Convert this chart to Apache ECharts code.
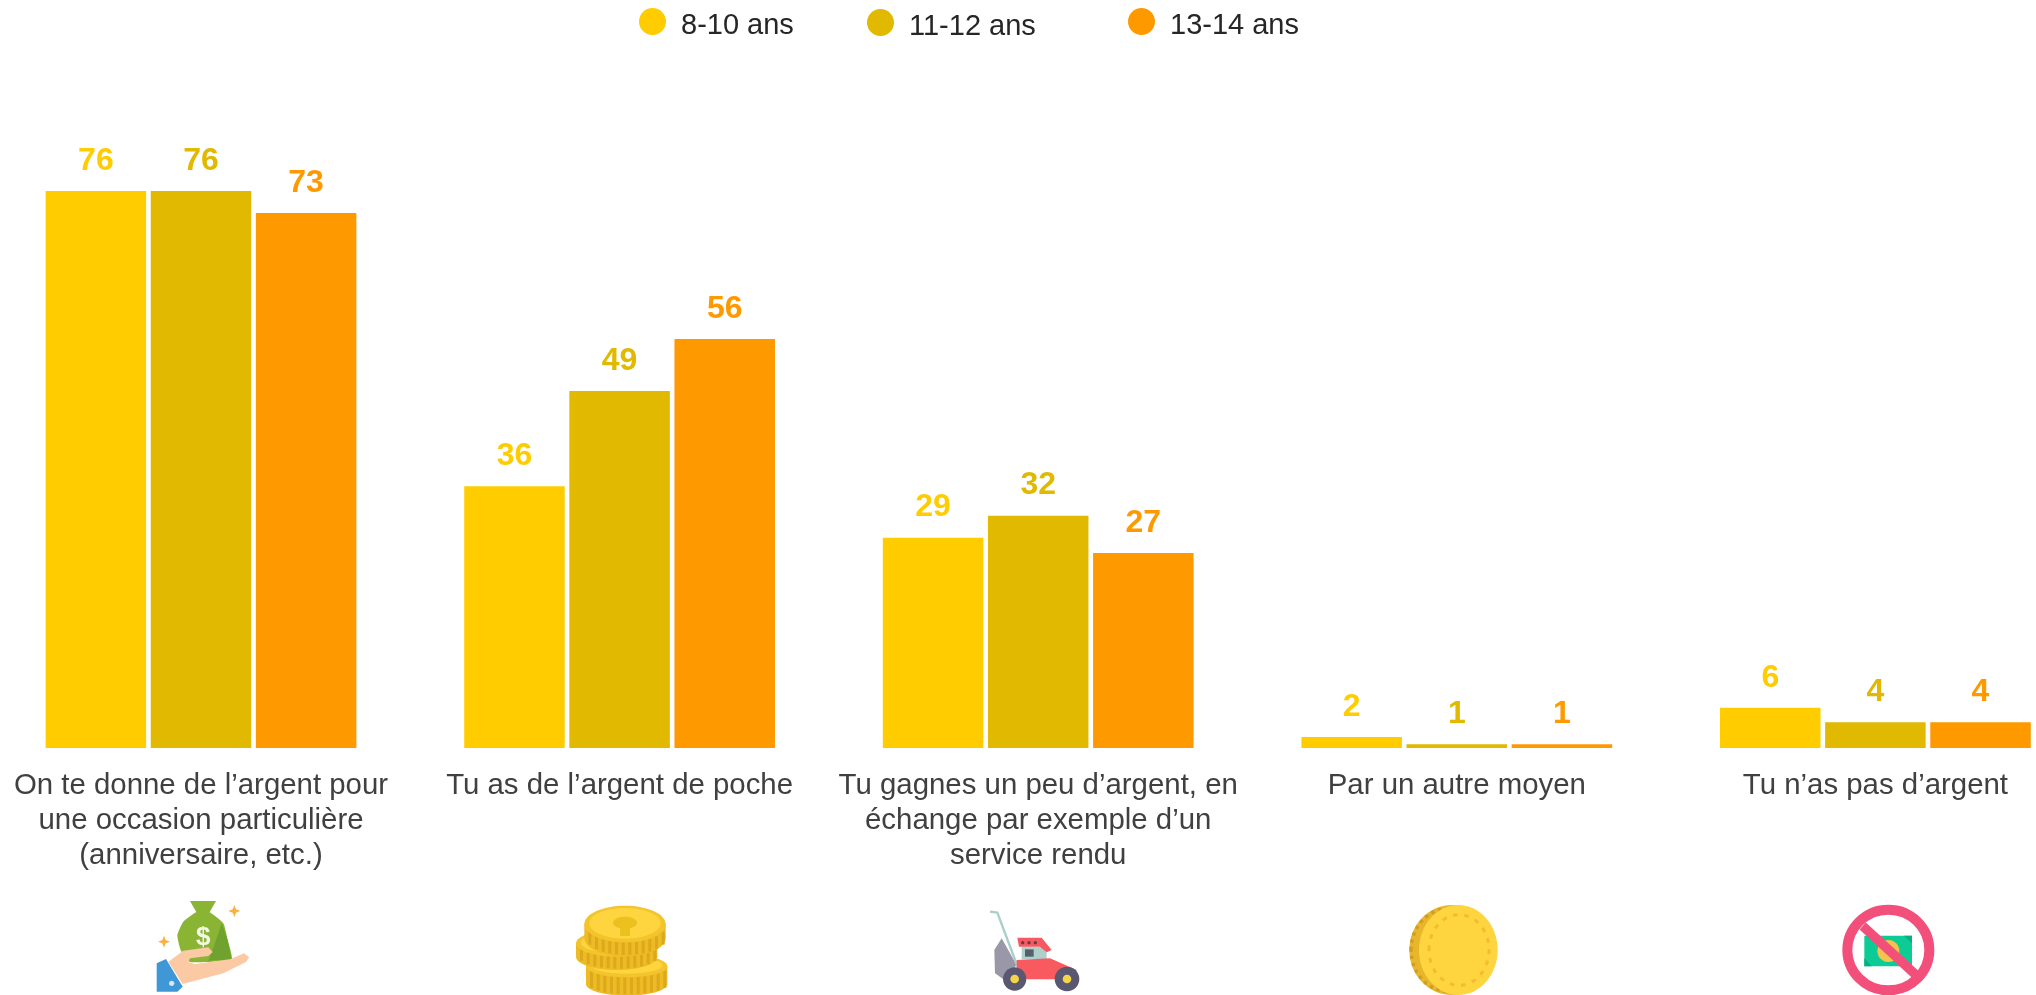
<!DOCTYPE html>
<html>
<head>
<meta charset="utf-8">
<title>Argent de poche</title>
<script src="https://cdn.jsdelivr.net/npm/echarts@6/dist/echarts.min.js"></script>
<style>
	html, body { margin: 0; padding: 0; background: #fff; }
	#chart { width: 2036px; height: 995px; }
</style>
</head>
<body>
<div id="chart"></div>
<script>
var categories = [
	"On te donne de l’argent pour\nune occasion particulière\n(anniversaire, etc.)",
	"Tu as de l’argent de poche",
	"Tu gagnes un peu d’argent, en\néchange par exemple d’un\nservice rendu",
	"Par un autre moyen",
	"Tu n’as pas d’argent"
];
var ages = ["8-10 ans", "11-12 ans", "13-14 ans"];
var values8 = [76, 35.7, 28.7, 1.5, 5.5];
var values11 = [76, 48.7, 31.7, 0.5, 3.5];
var values13 = [73, 55.8, 26.6, 0.5, 3.5];
var colors = ["#FFCC00", "#E0B900", "#FF9900"];
var legendLeft = [639, 867, 1128];
var legendTop = [8, 9, 8];

var fontName = '"Liberation Sans", Arial, sans-serif';

function barSeries(i, values) {
	return {
		name: ages[i],
		type: 'bar',
		data: values,
		barWidth: 100.5,
		barGap: '4.6%',
		itemStyle: { color: colors[i] },
		label: {
			show: true,
			position: 'top',
			distance: 14,
			color: colors[i],
			fontFamily: fontName,
			fontWeight: 'bold',
			fontSize: 32,
			formatter: function (p) { return Math.round(p.value); }
		}
	};
}

function legendFor(i) {
	return {
		data: [ages[i]],
		left: legendLeft[i],
		top: legendTop[i],
		padding: 0,
		itemWidth: 27,
		itemHeight: 30,
		icon: 'circle',
		formatter: '{t|{name}}',
		textStyle: {
			rich: {
				t: {
					color: '#262626',
					fontFamily: fontName,
					fontSize: 29,
					padding: [9, 0, 0, 10]
				}
			}
		}
	};
}

// small drawing helpers for the icons, coordinates are in 3x crop units
function ell(cx, cy, rx, ry, style) {
	return { type: 'ellipse', shape: { cx: cx, cy: cy, rx: rx, ry: ry }, style: style };
}
function poly(points, fill, smooth) {
	return { type: 'polygon', shape: { points: points, smooth: smooth || 0 }, style: { fill: fill } };
}
function box(x, y, w, h, fill) {
	return { type: 'rect', shape: { x: x, y: y, width: w, height: h }, style: { fill: fill } };
}
function icon(x, y, children) {
	return { type: 'group', x: x, y: y, scaleX: 1 / 3, scaleY: 1 / 3, silent: true, children: children };
}
function coin(cx, cy, rx, ry, depth) {
	var parts = [
		box(cx - rx, cy, rx * 2, depth, '#EDBB25'),
		ell(cx, cy + depth, rx, ry, { fill: '#EDBB25' })
	];
	// ridges on the visible edge of the coin
	for (var x = cx - rx + 12; x < cx + rx - 6; x += 20) {
		var t = (x - cx) / rx;
		var y = cy + ry * Math.sqrt(1 - t * t);
		parts.push(box(x, y, 9, depth - 4, '#DDA91C'));
	}
	parts.push(ell(cx, cy, rx, ry, { fill: '#F4C42C' }));
	parts.push(ell(cx, cy - 2, rx - 15, ry - 9, { fill: '#FFD53F' }));
	return parts;
}
function star(cx, cy) {
	return poly([[cx, cy - 18], [cx + 5, cy - 5], [cx + 18, cy], [cx + 5, cy + 5], [cx, cy + 18], [cx - 5, cy + 5], [cx - 18, cy], [cx - 5, cy - 5]], '#FBB040');
}

var iconBag = icon(140, 890, [
	poly([[150, 33], [228, 33], [208, 68], [170, 68]], '#8AB534'),
	poly([[170, 66], [208, 66], [250, 100], [263, 150], [275, 208], [150, 216], [122, 180], [112, 135], [130, 95]], '#8AB534', 0.15),
	poly([[245, 100], [263, 150], [275, 208], [205, 212], [225, 160]], '#6FA22E'),
	{ type: 'text', style: { x: 190, y: 142, text: '$', fill: '#F3F7E6', font: 'bold 78px ' + fontName, align: 'center', verticalAlign: 'middle' } },
	poly([[85, 215], [130, 182], [205, 172], [218, 186], [205, 198], [150, 205], [145, 216], [165, 222], [270, 208], [312, 190], [328, 202], [318, 216], [250, 250], [128, 282]], '#FCC9A5'),
	poly([[50, 220], [78, 207], [128, 290], [112, 305], [50, 305]], '#3F97D5'),
	ell(95, 280, 8, 8, { fill: '#D6E8F5' }),
	star(283, 63),
	star(72, 155)
]);

var iconCoins = icon(560, 890, [].concat(
	coin(200, 228, 122, 34, 55),
	coin(170, 160, 122, 40, 40),
	coin(195, 102, 122, 55, 42),
	[
		ell(195, 98, 36, 18, { fill: '#ECC01E' }),
		box(180, 100, 30, 38, '#ECC01E')
	]
));

var iconMower = icon(970, 890, [
	poly([[95, 145], [140, 225], [100, 268], [75, 250], [73, 180]], '#9A98A8'),
	{ type: 'polyline', shape: { points: [[60, 65], [82, 68], [142, 228]] }, style: { fill: 'none', stroke: '#A9CFC9', lineWidth: 7 } },
	box(155, 170, 75, 38, '#AFCFCB'),
	box(165, 178, 26, 22, '#55606B'),
	poly([[142, 143], [215, 143], [245, 180], [230, 187], [210, 170], [147, 170]], '#F55A62'),
	ell(158, 158, 5, 5, { fill: '#6A3A4A' }),
	ell(177, 158, 5, 5, { fill: '#6A3A4A' }),
	ell(196, 158, 5, 5, { fill: '#6A3A4A' }),
	poly([[140, 210], [240, 205], [320, 240], [300, 268], [170, 268], [140, 232]], '#F85A5F'),
	ell(134, 267, 35, 35, { fill: '#5A5870' }),
	ell(134, 267, 13, 13, { fill: '#F5D547' }),
	ell(291, 267, 37, 37, { fill: '#5A5870' }),
	ell(291, 267, 13, 13, { fill: '#F5D547' })
]);

var iconCoin = icon(1400, 890, [
	ell(155, 180, 127, 135, { fill: '#E8B62A' }),
	ell(148, 180, 115, 125, { fill: 'none', stroke: '#CE9E22', lineWidth: 10, lineDash: [10, 12] }),
	ell(175, 180, 118, 135, { fill: '#FFD53F' }),
	ell(177, 180, 90, 106, { fill: 'none', stroke: '#F2BC2E', lineWidth: 9, lineDash: [14, 20] })
]);

var iconNoMoney = icon(1830, 890, [
	box(103, 137, 143, 92, '#0CCB94'),
	poly([[103, 205], [125, 229], [103, 229]], '#0AAE80'),
	poly([[246, 137], [246, 160], [222, 137]], '#0AAE80'),
	ell(175, 183, 33, 33, { fill: '#F5C24E' }),
	ell(175, 180, 123, 121, { fill: 'none', stroke: '#F2507A', lineWidth: 30 }),
	{ type: 'line', shape: { x1: 98, y1: 108, x2: 258, y2: 255 }, style: { stroke: '#F2507A', lineWidth: 28 } }
]);

var myChart = echarts.init(document.getElementById('chart'));
var option = {
	animation: false,
	backgroundColor: '#fff',
	legend: [legendFor(0), legendFor(1), legendFor(2)],
	grid: { left: -8.3, top: 15, width: 2093, height: 733, outerBoundsMode: 'none' },
	xAxis: {
		type: 'category',
		data: categories,
		axisLine: { show: false },
		axisTick: { show: false },
		axisLabel: {
			interval: 0,
			margin: 20,
			hideOverlap: false,
			color: '#404040',
			fontFamily: fontName,
			fontSize: 29.4,
			lineHeight: 35,
			align: 'center'
		}
	},
	yAxis: { type: 'value', min: 0, max: 100, show: false, splitLine: { show: false } },
	series: [barSeries(0, values8), barSeries(1, values11), barSeries(2, values13)],
	graphic: [iconBag, iconCoins, iconMower, iconCoin, iconNoMoney]
};
myChart.setOption(option, true);
</script>
</body>
</html>
